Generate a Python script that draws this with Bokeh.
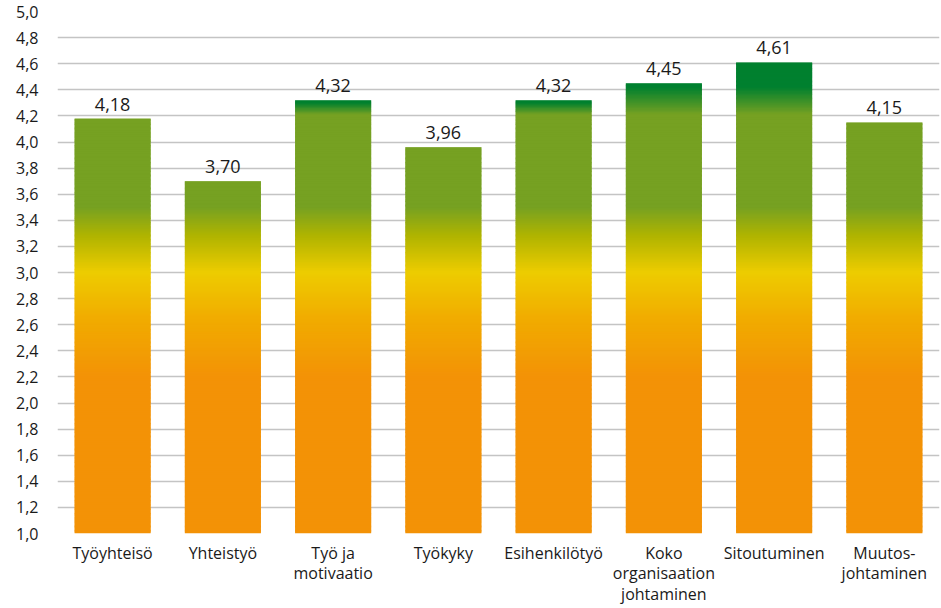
from bokeh.plotting import figure
from bokeh.models import FactorRange, Range1d, FixedTicker, ColumnDataSource
from bokeh.core.properties import value as bvalue
from bokeh.embed import file_html
from bokeh.resources import INLINE

categories = ["Työyhteisö", "Yhteistyö", "Työ ja\nmotivaatio", "Työkyky", "Esihenkilötyö",
              "Koko\norganisaation\njohtaminen", "Sitoutuminen", "Muutos-\njohtaminen"]
scores = [4.18, 3.70, 4.32, 3.96, 4.32, 4.45, 4.61, 4.15]
score_labels = ["4,18", "3,70", "4,32", "3,96", "4,32", "4,45", "4,61", "4,15"]
y_ticks = [1.0, 1.2, 1.4, 1.6, 1.8, 2.0, 2.2, 2.4, 2.6, 2.8, 3.0, 3.2, 3.4, 3.6, 3.8, 4.0,
           4.2, 4.4, 4.6, 4.8, 5.0]
y_tick_labels = ["1,0", "1,2", "1,4", "1,6", "1,8", "2,0", "2,2", "2,4", "2,6", "2,8", "3,0",
                 "3,2", "3,4", "3,6", "3,8", "4,0", "4,2", "4,4", "4,6", "4,8", "5,0"]

FONT = "Open Sans"
TEXT_COLOR = "#1a1a1a"


def hex2rgb(h):
    h = h.lstrip("#")
    return tuple(int(h[i:i + 2], 16) for i in (0, 2, 4))


def rgb2hex(c):
    return "#%02x%02x%02x" % tuple(int(round(v)) for v in c)


def mix(a, b, t):
    a, b = hex2rgb(a), hex2rgb(b)
    return rgb2hex(tuple(a[i] + (b[i] - a[i]) * t for i in range(3)))


ORANGE = "#F39206"
GREEN = "#76A122"
DARK = "#00802F"
stops = [(1.0, ORANGE), (2.2, ORANGE), (2.65, "#F1AC00"), (3.0, "#EDCC00"),
         (3.28, "#B0B400"), (3.5, GREEN)]


def base_color(y):
    if y <= stops[0][0]:
        return stops[0][1]
    for (y0, c0), (y1, c1) in zip(stops[:-1], stops[1:]):
        if y <= y1:
            return mix(c0, c1, (y - y0) / (y1 - y0))
    return GREEN


def bar_color(y, top):
    c = base_color(y)
    if y > 3.5 and top > 4.25:
        g = 4.21
        d = min(top - 0.02, 4.42)
        t = max(0.0, min(1.0, (y - g) / (d - g)))
        c = mix(GREEN, DARK, t)
    return c


step = 0.01
xs, bots, tops, cols = [], [], [], []
for cat, v in zip(categories, scores):
    n = int(round((v - 1.0) / step))
    for i in range(n + 1):
        b = 1.0 + i * step
        if b >= v:
            break
        t = min(b + step * 1.7, v)
        xs.append(cat)
        bots.append(b)
        tops.append(t)
        cols.append(bar_color(b + step / 2, v))

p = figure(width=941, height=608, output_backend="svg", toolbar_location=None,
           x_range=FactorRange(*categories, range_padding=0.0),
           y_range=Range1d(1.0, 5.0),
           min_border_left=57, min_border_right=2, min_border_top=11, min_border_bottom=20)
p.outline_line_color = None
p.background_fill_color = "white"
p.border_fill_color = "white"

p.vbar(x=xs, bottom=bots, top=tops, width=0.69, fill_color=cols, line_color=None)

src = ColumnDataSource(dict(x=categories, y=scores, t=score_labels))
p.text(x="x", y="y", text="t", source=src, text_align="center", text_baseline="bottom",
       y_offset=-8, text_font=bvalue(FONT), text_font_size="18px", text_color=TEXT_COLOR)

p.yaxis.ticker = FixedTicker(ticks=y_ticks)
p.yaxis.major_label_overrides = {t: l for t, l in zip(y_ticks, y_tick_labels)}
for ax in (p.xaxis, p.yaxis):
    ax.axis_line_color = None
    ax.major_tick_line_color = None
    ax.minor_tick_line_color = None
    ax.major_tick_out = 0
    ax.major_tick_in = 0
    ax.minor_tick_out = 0
    ax.minor_tick_in = 0
    ax.major_label_text_font = FONT
    ax.major_label_text_font_size = "16px"
    ax.major_label_text_color = TEXT_COLOR
p.xaxis.major_label_text_line_height = 0.95
p.yaxis.major_label_standoff = 19
p.xaxis.major_label_standoff = 8
p.xgrid.grid_line_color = None
p.ygrid.grid_line_color = "#C4C4C4"
p.ygrid.grid_line_width = 1.5

open("out.html", "w").write(file_html(p, INLINE))
